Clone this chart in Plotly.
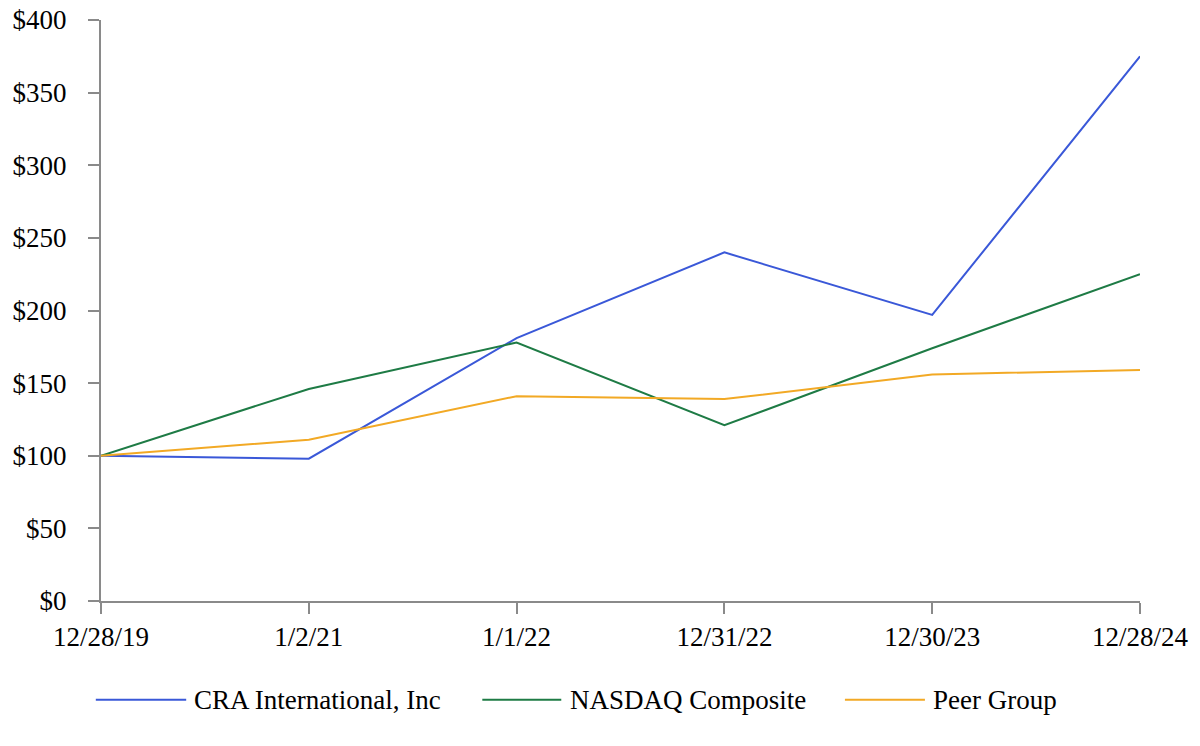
import plotly.graph_objects as go

dates = ["12/28/19", "1/2/21", "1/1/22", "12/31/22", "12/30/23", "12/28/24"]
cra = [100, 98, 181, 240, 197, 375]
nasdaq = [100, 146, 178, 121, 174, 225]
peer = [100, 111, 141, 139, 156, 159]
y_ticks = [0, 50, 100, 150, 200, 250, 300, 350, 400]
y_labels = ["$" + str(v) for v in y_ticks]

series_names = ["CRA International, Inc", "NASDAQ Composite", "Peer Group"]
series_values = [cra, nasdaq, peer]
series_colors = ["#3a58d8", "#1e7b45", "#f2a925"]

# custom legend placement (paper coordinates)
legend_line_x = [(-0.005, 0.082), (0.367, 0.443), (0.716, 0.793)]
legend_y = -0.170

font_family = "Liberation Serif"
fsize = 27

fig = go.Figure()
for name, vals, color in zip(series_names, series_values, series_colors):
    fig.add_trace(go.Scatter(x=dates, y=vals, mode="lines", name=name,
                             line=dict(color=color, width=2), showlegend=False))

for name, color, (x0, x1) in zip(series_names, series_colors, legend_line_x):
    fig.add_shape(type="line", xref="paper", yref="paper", x0=x0, x1=x1,
                  y0=legend_y, y1=legend_y, line=dict(color=color, width=2))
    fig.add_annotation(xref="paper", yref="paper", x=x1 + 0.006, y=legend_y,
                       xanchor="left", yanchor="middle", text=name, showarrow=False,
                       font=dict(family=font_family, size=fsize, color="black"))

axis_common = dict(showgrid=False, zeroline=False,
                   showline=True, linecolor="#8a8a8a", linewidth=2,
                   ticks="outside", ticklen=11, tickcolor="#8a8a8a", tickwidth=2,
                   ticklabeloverflow="allow",
                   tickfont=dict(family=font_family, size=fsize, color="black"))

fig.update_layout(
    width=1200, height=746,
    margin=dict(l=93, r=68, t=12, b=153),
    plot_bgcolor="white", paper_bgcolor="white",
    font=dict(family=font_family, size=fsize, color="black"),
    showlegend=False,
    xaxis=dict(type="category", range=[0, 5], ticklabelstandoff=0,
               automargin=False, **axis_common),
    yaxis=dict(range=[0, 400], tickvals=y_ticks, ticktext=y_labels,
               ticklabelstandoff=16, automargin=False, **axis_common),
)

fig.write_html("out.html")
